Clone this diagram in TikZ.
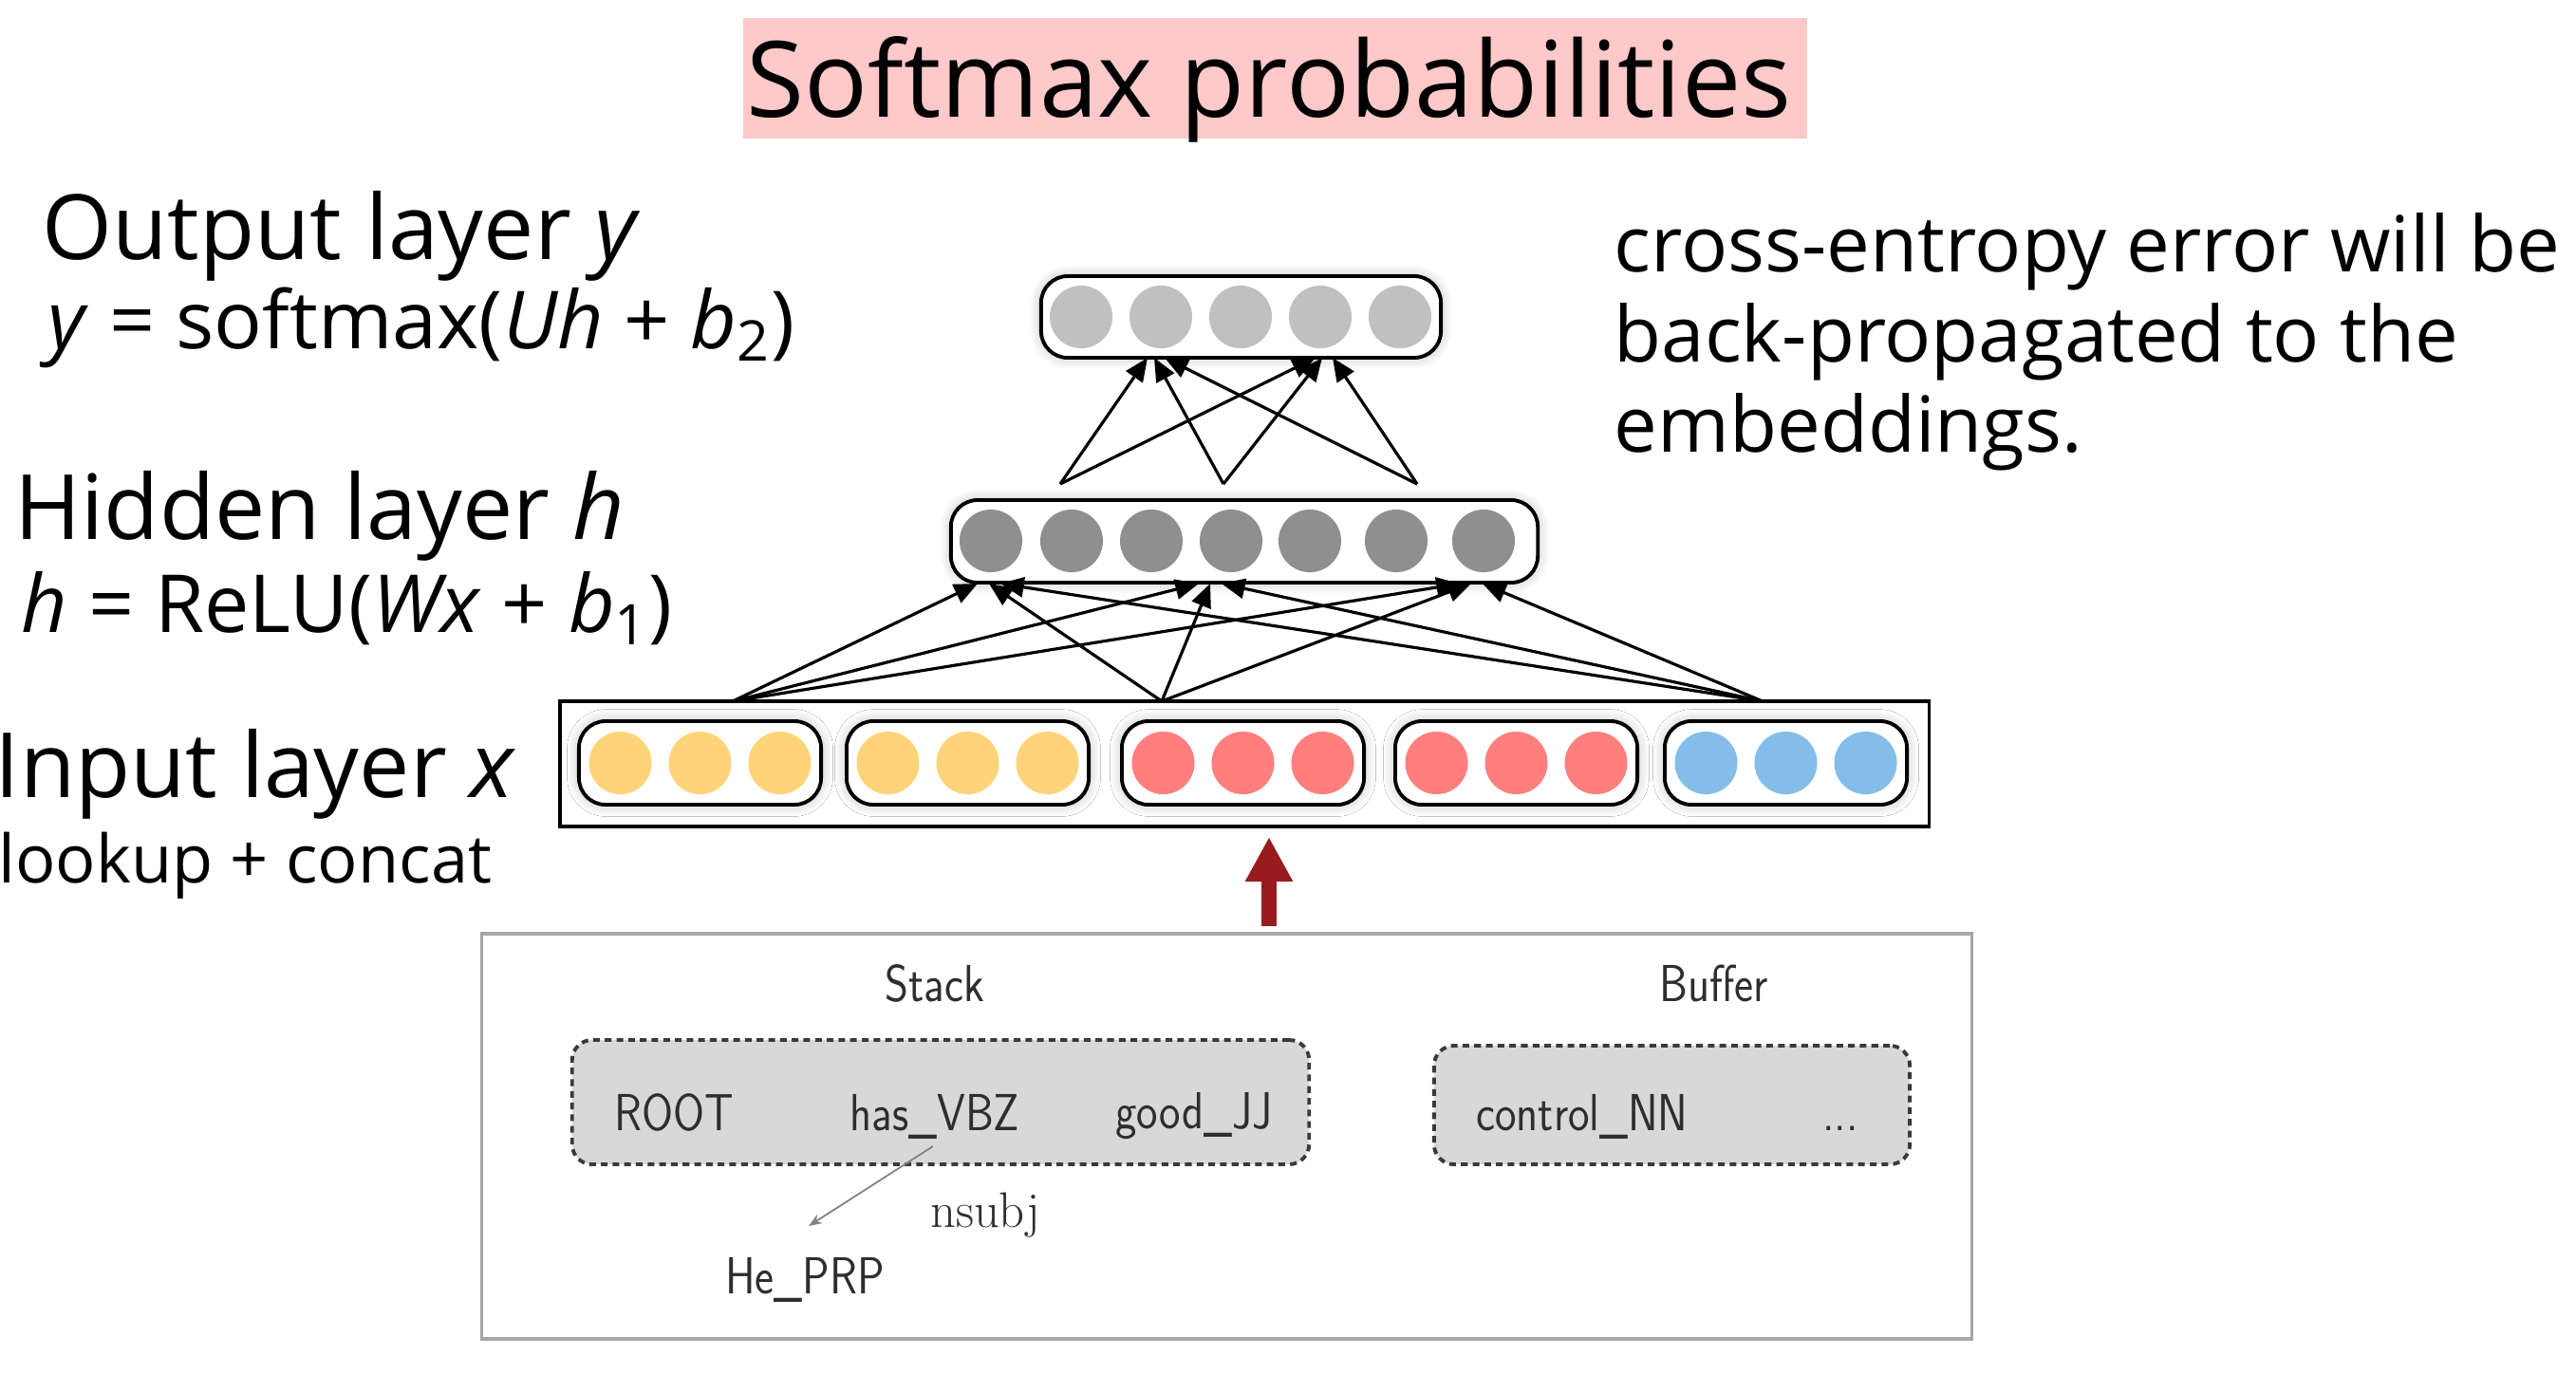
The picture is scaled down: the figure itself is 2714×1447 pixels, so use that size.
\documentclass[tikz,border=0pt]{standalone}
\usepackage{fontspec}
\usepackage{graphicx}
\newfontfamily\osans{Open Sans}
\usetikzlibrary{arrows.meta,shadows.blur,calc}
\definecolor{outc}{HTML}{C0C0C0}
\definecolor{hidc}{HTML}{8F8F8F}
\definecolor{yelc}{HTML}{FFD479}
\definecolor{redc}{HTML}{FF7F7F}
\definecolor{bluc}{HTML}{84BEE8}
\definecolor{pinkbg}{HTML}{FFC9C9}
\definecolor{darkredc}{HTML}{9A1B1E}
\definecolor{framegray}{HTML}{A6A6A6}
\definecolor{stackfill}{HTML}{D8D8D8}
\definecolor{stackborder}{HTML}{3A3A3A}
\definecolor{stacktext}{HTML}{2E2E2E}
\newcommand\labfont{\osans\fontsize{27}{32}\selectfont}
\newcommand\eqfont{\osans\fontsize{24}{29}\selectfont}
\newcommand\rtfont{\osans\fontsize{23.2}{28}\selectfont}
\newcommand\titfont{\osans\fontsize{31.6}{38}\selectfont}
\newcommand\lcfont{\osans\fontsize{20}{24}\selectfont}
\newcommand\stfont{\sffamily\fontsize{15.6}{19}\selectfont}
\newcommand\stxt[1]{\scalebox{0.87}[1]{#1}}
\begin{document}
\begin{tikzpicture}[x=0.01cm,y=-0.01cm,
  layerbox/.style={draw=black, line width=1.1pt, rounded corners=8pt, fill=white,
    blur shadow={shadow xshift=0pt,shadow yshift=0pt,shadow blur radius=3.5pt,shadow blur steps=12,shadow opacity=25}},
  unitc/.style={circle, inner sep=0pt, minimum size=0.66cm},
  conn/.style={line width=0.9pt, -{Triangle[length=7pt,width=6pt]}},
  txt/.style={inner sep=0pt, anchor=base west},
  sttxt/.style={inner sep=0pt, anchor=base, text=stacktext, font=\stfont},
  dbox/.style={draw=stackborder, fill=stackfill, dash pattern=on 2pt off 1.5pt, line width=1.1pt, rounded corners=6pt}
]
\useasboundingbox (0,0) rectangle (2714,1447);

% title
\node[fill=pinkbg, minimum width=11.21cm, minimum height=1.27cm, inner sep=0pt] (titlebg) at (1343.5,82.5) {};
\node[inner sep=0pt, anchor=base] (title) at (1337,123) {\titfont Softmax probabilities};

% left labels
\node[txt] (outlab) at (44,273) {\labfont Output layer \textit{y}};
\node[txt] (outeq) at (50,367) {\eqfont \textit{y} = softmax(\textit{Uh} + \textit{b}\textsubscript{2})};
\node[txt] (hidlab) at (15,568) {\labfont Hidden layer \textit{h}};
\node[txt] (hideq) at (22,666) {\eqfont \textit{h} = ReLU(\textit{Wx} + \textit{b}\textsubscript{1})};
\node[txt] (inlab) at (-6,840) {\labfont Input layer \textit{x}};
\node[txt] (inlab2) at (-2,930) {\lcfont lookup + concat};

% right text
\node[txt] (rt1) at (1700,286) {\rtfont cross-entropy error will be};
\node[txt] (rt2) at (1700,381) {\rtfont back-propagated to the};
\node[txt] (rt3) at (1700,476) {\rtfont embeddings.};

% output layer
\node[layerbox, minimum width=4.21cm, minimum height=0.86cm] (outbox) at (1307.5,334) {};
\foreach \i/\cx in {1/1139,2/1223,3/1307,4/1391,5/1475}
  \node[unitc, fill=outc] (o\i) at (\cx,334) {};

% hidden layer
\node[layerbox, minimum width=6.18cm, minimum height=0.87cm] (hidbox) at (1311,570.5) {};
\foreach \i/\cx in {1/1044,2/1129,3/1213,4/1297,5/1380,6/1471,7/1563}
  \node[unitc, fill=hidc] (h\i) at (\cx,570) {};

% input layer
\node[draw=black, line width=1.1pt, fill=white, minimum width=14.42cm, minimum height=1.32cm, inner sep=0pt] (inrect) at (1311,805) {};
\foreach \i/\gx/\col in {1/737.5/yelc,2/1019.5/yelc,3/1309.5/redc,4/1597.5/redc,5/1881.5/bluc}{
  \node[layerbox, minimum width=2.55cm, minimum height=0.88cm] (g\i) at (\gx,804) {};
  \node[unitc, fill=\col] (g\i a) at ($(g\i)+(-84,0)$) {};
  \node[unitc, fill=\col] (g\i b) at ($(g\i)+(0,0)$) {};
  \node[unitc, fill=\col] (g\i c) at ($(g\i)+(84,0)$) {};
}

% input -> hidden connectors
\coordinate (s1) at (772,739);
\coordinate (s2) at (1224,739);
\coordinate (s3) at (1857,739);
\coordinate (t1) at (1042,615);
\coordinate (t4) at (1275,615);
\coordinate (t7) at (1550,615);
\foreach \s/\d in {s1/-12,s2/0,s3/12}{
  \foreach \t in {t1,t4,t7}{
    \draw[conn] (\s) -- ($(\t)+(\d,0)$);
  }
}

% hidden -> output connectors
\coordinate (u1) at (1117,510);
\coordinate (u2) at (1289,510);
\coordinate (u3) at (1493,510);
\coordinate (p2) at (1218,377);
\coordinate (p4) at (1395,377);
\foreach \s/\d in {u1/-9,u2/-2,u3/9}{
  \foreach \t in {p2,p4}{
    \draw[conn] (\s) -- ($(\t)+(\d,0)$);
  }
}

% parser configuration frame
\node[draw=framegray, line width=1pt, fill=white, minimum width=15.69cm, minimum height=4.27cm, inner sep=0pt] (frame) at (1292.5,1197.5) {};
\coordinate (redbot) at (1337,976);
\coordinate (redtop) at (1337,882);
\draw[darkredc, line width=4.8pt, -{Triangle[length=13.4pt,width=13.4pt]}] (redbot) -- (redtop);

\node[sttxt] (stacklab) at (985,1055) {\stxt{Stack}};
\node[sttxt] (bufflab) at (1806,1055) {\stxt{Buffer}};
\node[dbox, minimum width=7.76cm, minimum height=1.31cm] (stackbox) at (991,1161.5) {};
\node[dbox, minimum width=5.01cm, minimum height=1.25cm] (buffbox) at (1761.5,1164.5) {};
\node[sttxt] (root) at (710,1191) {\stxt{ROOT}};
\node[sttxt] (has) at (985,1191) {\stxt{has\_VBZ}};
\node[sttxt] (good) at (1258,1189) {\stxt{good\_JJ}};
\node[sttxt] (ctrl) at (1667,1191) {\stxt{control\_NN}};
\node[sttxt] (dots) at (1939,1191) {\stxt{...}};
\node[sttxt] (he) at (848,1363) {\stxt{He\_PRP}};
\node[inner sep=0pt, anchor=base, text=stacktext, font=\rmfamily\fontsize{15}{18}\selectfont] (nsubj) at (1038,1293) {nsubj};
\coordinate (arcA) at (983,1208);
\coordinate (arcB) at (852,1292);
\draw[draw=gray, line width=0.5pt, -{Stealth[length=4pt,width=3pt]}] (arcA) -- (arcB);
\end{tikzpicture}
\end{document}
